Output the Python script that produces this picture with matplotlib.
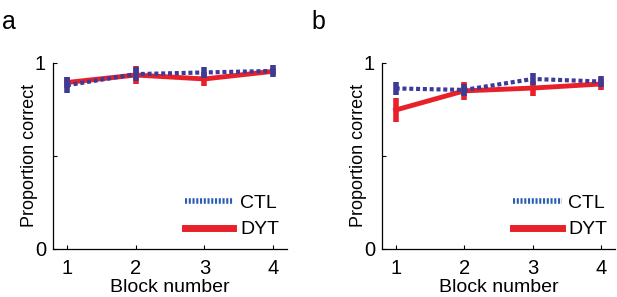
import matplotlib
matplotlib.use('Agg')
import matplotlib.pyplot as plt
from matplotlib.lines import Line2D
import numpy as np

plt.rcParams['font.family'] = ['Liberation Sans', 'DejaVu Sans']
plt.rcParams['lines.scale_dashes'] = False

blocks = [1, 2, 3, 4]

# panel a
ctl_a = [0.88, 0.94, 0.949, 0.957]
ctl_a_err = [0.043, 0.038, 0.03, 0.032]
dyt_a = [0.895, 0.935, 0.914, 0.955]
dyt_a_err = [0.03, 0.048, 0.038, 0.02]

# panel b
ctl_b = [0.863, 0.855, 0.914, 0.9]
ctl_b_err = [0.035, 0.032, 0.032, 0.028]
dyt_b = [0.747, 0.85, 0.865, 0.887]
dyt_b_err = [0.065, 0.048, 0.04, 0.03]

panel_letters = ['a', 'b']
xtick_labels = ['1', '2', '3', '4']
ytick_labels = ['0', '', '1']

ctl_color = '#3c3c98'
ctl_leg_color = '#2a5eb0'
dyt_color = '#e8202a'

fig = plt.figure(figsize=(6.17, 2.97), dpi=100)
axes_pos = [[0.086, 0.162, 0.379, 0.626], [0.619, 0.162, 0.378, 0.626]]
letter_x = [0.0, 0.5]

data = [(ctl_a, ctl_a_err, dyt_a, dyt_a_err), (ctl_b, ctl_b_err, dyt_b, dyt_b_err)]

for i, (ctl, ctl_err, dyt, dyt_err) in enumerate(data):
    ax = fig.add_axes(axes_pos[i])
    ax.errorbar(blocks, dyt, yerr=dyt_err, color=dyt_color, lw=3.5,
                elinewidth=4, capsize=0, zorder=2)
    ax.errorbar(blocks, ctl, yerr=ctl_err, color=ctl_color, lw=3,
                elinewidth=4, capsize=0, zorder=3, dashes=(2.9, 2.0))
    ax.set_xlim(0.8, 4.2)
    ax.set_ylim(0, 1)
    ax.set_xticks(blocks)
    ax.set_xticklabels(xtick_labels)
    ax.set_yticks([0, 0.5, 1])
    ax.set_yticklabels(ytick_labels)
    ax.tick_params(direction='in', length=3, width=0.8, labelsize=14.5, pad=7)
    ax.tick_params(axis='y', pad=5)
    for s in ['top', 'right']:
        ax.spines[s].set_visible(False)
    ax.spines['left'].set_linewidth(0.9)
    ax.spines['bottom'].set_linewidth(0.9)
    ax.set_xlabel('Block number', fontsize=14, labelpad=1)
    ax.set_ylabel('Proportion correct', fontsize=13, labelpad=-2)
    handles = [Line2D([], [], color=ctl_leg_color, lw=4, dashes=(1.5, 1.2)),
               Line2D([], [], color=dyt_color, lw=5)]
    ax.legend(handles, ['CTL', 'DYT'], loc='lower right', frameon=False,
              fontsize=14, handlelength=2.5, handletextpad=0.35,
              labelspacing=0.45, borderaxespad=0.0, bbox_to_anchor=(1.0, 0.015))
    fig.text(letter_x[i] + 0.004, 0.885, panel_letters[i], fontsize=18, va='bottom')

fig.savefig('out.png', dpi=100)
